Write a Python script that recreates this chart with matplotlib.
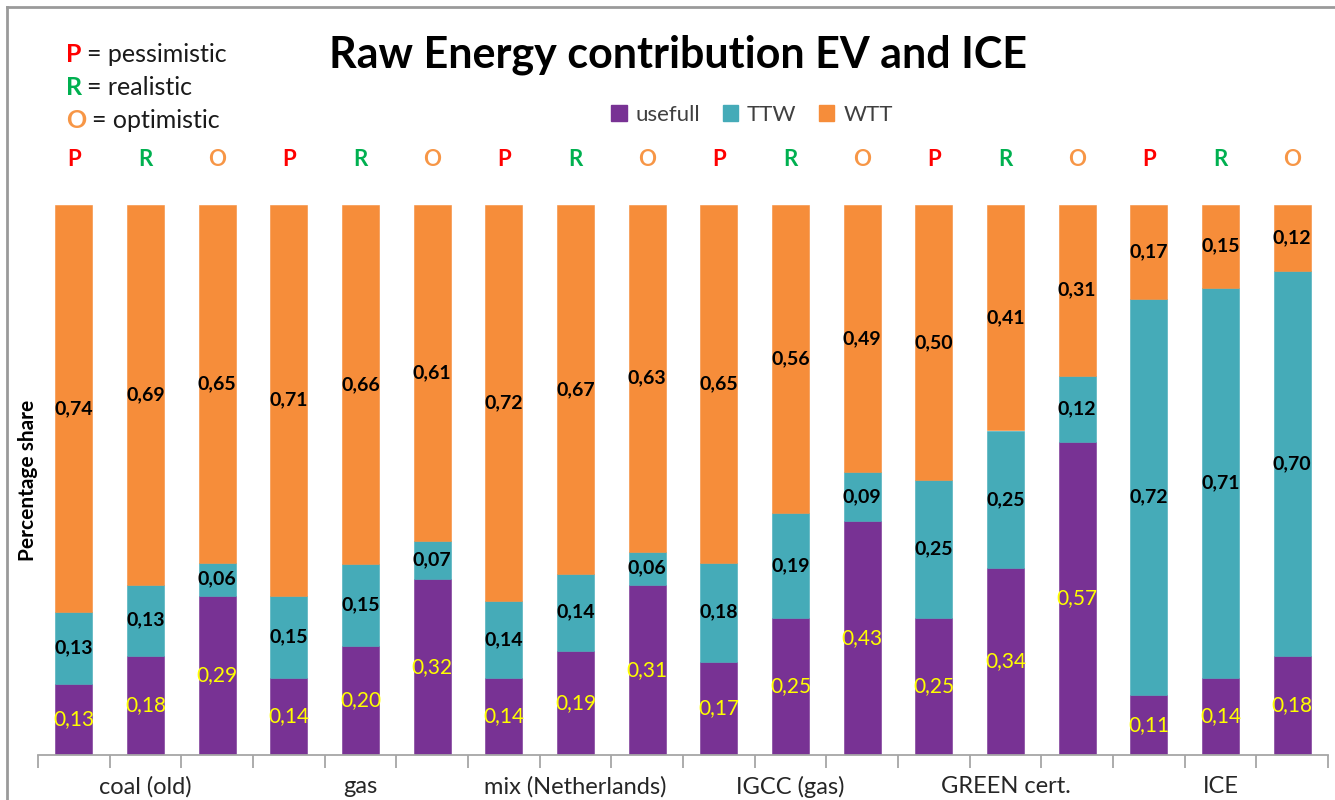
"""
Raw Energy contribution EV and ICE - stacked bar chart.
"""

import matplotlib

matplotlib.use("Agg")

import matplotlib.pyplot as plt
from matplotlib.lines import Line2D
from matplotlib.patches import Patch


GROUPS: list[str] = [
    "coal (old)",
    "gas",
    "mix (Netherlands)",
    "IGCC (gas)",
    "GREEN cert.",
    "ICE"
]

SCENARIOS: list[str] = ["P", "R", "O"]

USEFULL: list[float] = [
    0.13, 0.18, 0.29,
    0.14, 0.20, 0.32,
    0.14, 0.19, 0.31,
    0.17, 0.25, 0.43,
    0.25, 0.34, 0.57,
    0.11, 0.14, 0.18
]

TTW: list[float] = [
    0.13, 0.13, 0.06,
    0.15, 0.15, 0.07,
    0.14, 0.14, 0.06,
    0.18, 0.19, 0.09,
    0.25, 0.25, 0.12,
    0.72, 0.71, 0.70
]

WTT: list[float] = [
    0.74, 0.69, 0.65,
    0.71, 0.66, 0.61,
    0.72, 0.67, 0.63,
    0.65, 0.56, 0.49,
    0.50, 0.41, 0.31,
    0.17, 0.15, 0.12
]

SCENARIO_NAMES: list[str] = ["pessimistic", "realistic", "optimistic"]

PURPLE = "#783294"
TEAL = "#45ABB8"
ORANGE = "#F68D3A"
SCENARIO_COLORS = {"P": "#FF0000", "R": "#00B050", "O": "#F79646"}
FONT = ["Lato", "DejaVu Sans"]


def fmt(value: float) -> str:
    """
    Format value with a decimal comma.
    """
    return f"{value:.2f}".replace(".", ",")


def create_chart() -> None:
    """
    Build the stacked bar chart and save it.
    """
    plt.rcParams["font.family"] = FONT

    fig = plt.figure(figsize=(13.35, 8), dpi=100)
    ax = fig.add_axes([38 / 1335, 45 / 800, 1290 / 1335, 550 / 800])

    n = len(USEFULL)
    x = list(range(n))

    # normalise every bar to a share of 1
    totals = [u + t + w for u, t, w in zip(USEFULL, TTW, WTT)]
    useful = [u / s for u, s in zip(USEFULL, totals)]
    ttw = [t / s for t, s in zip(TTW, totals)]
    wtt = [w / s for w, s in zip(WTT, totals)]
    base2 = [u + t for u, t in zip(useful, ttw)]

    width = 0.52
    ax.bar(x, useful, width, color=PURPLE, edgecolor=PURPLE, linewidth=0.4)
    ax.bar(x, ttw, width, bottom=useful, color=TEAL, edgecolor=TEAL,
           linewidth=0.4)
    ax.bar(x, wtt, width, bottom=base2, color=ORANGE, edgecolor=ORANGE,
           linewidth=0.4)

    for i in x:
        ax.text(i, useful[i] / 2, fmt(USEFULL[i]), ha="center",
                va="center", color="#FFFF00", fontsize=15)
        ax.text(i, useful[i] + ttw[i] / 2, fmt(TTW[i]), ha="center",
                va="center", color="black", fontsize=14,
                fontweight="bold")
        ax.text(i, base2[i] + wtt[i] / 2, fmt(WTT[i]), ha="center",
                va="center", color="black", fontsize=14,
                fontweight="bold")
        letter = SCENARIOS[i % 3]
        ax.text(i, 1.082, letter, ha="center", va="center",
                color=SCENARIO_COLORS[letter], fontsize=16,
                fontweight="bold", clip_on=False)

    ax.set_xlim(-0.5, n - 0.5)
    ax.set_ylim(0, 1)

    for side in ["left", "right", "top"]:
        ax.spines[side].set_visible(False)
    ax.spines["bottom"].set_color("#A6A6A6")
    ax.spines["bottom"].set_linewidth(1.3)
    ax.set_yticks([])

    ax.set_xticks([1 + 3 * g for g in range(len(GROUPS))])
    ax.set_xticklabels(GROUPS, fontsize=17, color="#262626")
    ax.tick_params(axis="x", which="major", length=0, pad=15)
    ax.set_xticks([i - 0.5 for i in range(n + 1)], minor=True)
    ax.tick_params(axis="x", which="minor", length=9, width=1.3,
                   color="#A6A6A6")

    fig.text(28 / 1335, 1 - 480 / 800, "Percentage share", rotation=90,
             ha="center", va="center", fontsize=15, fontweight="bold")

    fig.text(678 / 1335, 1 - 55 / 800, "Raw Energy contribution EV and ICE",
             ha="center", va="center", fontsize=31, fontweight="bold")

    for k, letter in enumerate(SCENARIOS):
        y = 1 - (54 + 33.5 * k) / 800
        fig.text(66 / 1335, y, letter, ha="left", va="center",
                 color=SCENARIO_COLORS[letter], fontsize=18,
                 fontweight="bold")
        fig.text(87 / 1335 + (0.004 if letter == "O" else 0), y,
                 "= " + SCENARIO_NAMES[k], ha="left", va="center",
                 color="#1A1A1A", fontsize=18)

    handles = [
        Patch(color=PURPLE, label="usefull"),
        Patch(color=TEAL, label="TTW"),
        Patch(color=ORANGE, label="WTT")
    ]
    fig.legend(handles=handles, loc="center",
               bbox_to_anchor=(752 / 1335, 1 - 115 / 800), ncol=3,
               frameon=False, fontsize=16, handlelength=0.7,
               handleheight=0.7, handletextpad=0.4, columnspacing=1.0,
               labelcolor="#404040")

    # grey outer frame
    fig.add_artist(Line2D([7 / 1335, 1], [1 - 7 / 800, 1 - 7 / 800],
                          transform=fig.transFigure, color="#9A9A9A",
                          lw=2))
    fig.add_artist(Line2D([7 / 1335, 7 / 1335], [0, 1 - 7 / 800],
                          transform=fig.transFigure, color="#9A9A9A",
                          lw=2))

    fig.savefig("out.png", dpi=100)


def main() -> None:
    """
    Execute chart creation.
    """
    create_chart()


if __name__ == "__main__":
    main()
